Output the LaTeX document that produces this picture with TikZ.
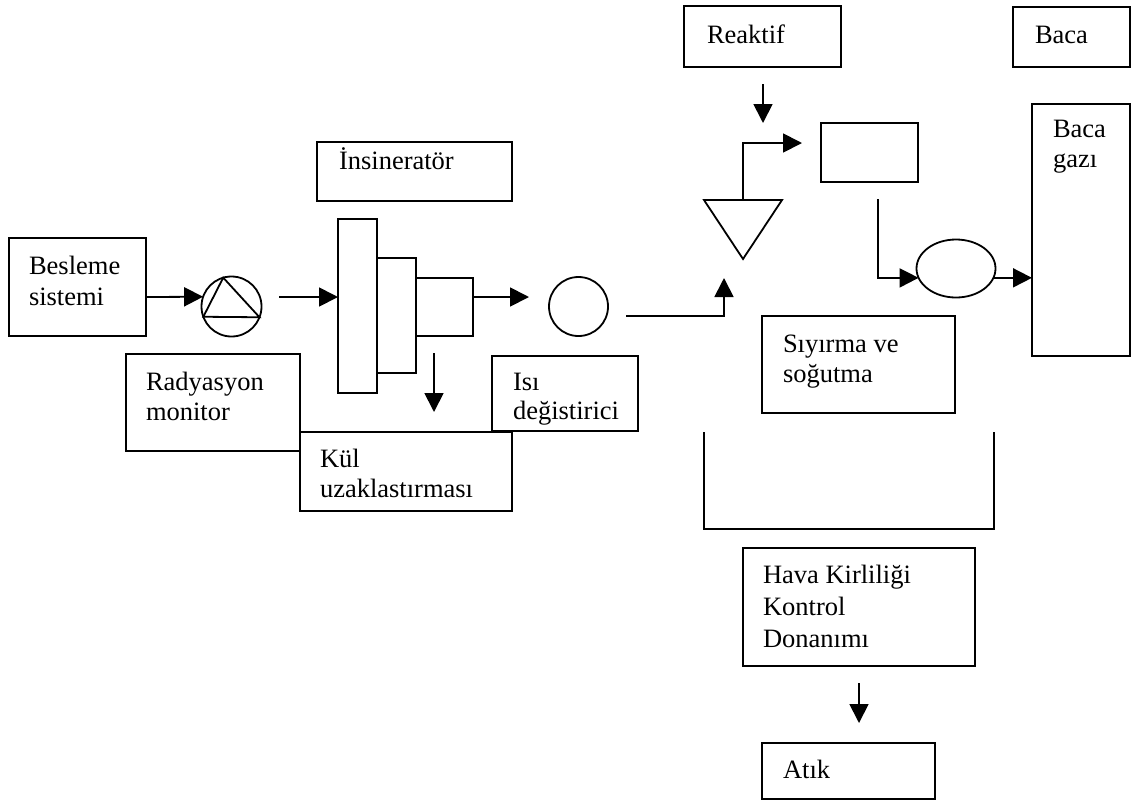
\documentclass[tikz,border=0pt]{standalone}
\usepackage{fontspec}
\setmainfont{Liberation Serif}
\usetikzlibrary{arrows.meta,shapes.geometric}
\begin{document}
\begin{tikzpicture}[x=1pt,y=-1pt,
  every node/.style={outer sep=0pt, inner sep=0pt},
  box/.style={draw, line width=1.8pt, rectangle},
  rnd/.style={draw, line width=1.8pt, circle},
  txt/.style={anchor=base west, font=\fontsize{26.5}{31}\selectfont},
  arr/.style={line width=1.8pt, -{Triangle[length=19pt,width=19pt]}},
  ln/.style={line width=1.8pt, line join=miter}]
\useasboundingbox (0,0) rectangle (1135,804);

% ---------- boxes ----------
\node[box, minimum width=137pt, minimum height=98pt]  (besleme)  at (77.5,287) {};
\node[box, minimum width=174pt, minimum height=97pt]  (radyasyon) at (213,402.5) {};
\node[box, minimum width=195pt, minimum height=59pt]  (insbox)   at (414.5,171.5) {};
\node[box, minimum width=39pt,  minimum height=174pt] (inc1)     at (357.5,306) {};
\node[box, minimum width=39pt,  minimum height=115pt] (inc2)     at (396.5,315.5) {};
\node[box, minimum width=57pt,  minimum height=58pt]  (inc3)     at (444.5,307) {};
\node[box, minimum width=212pt, minimum height=79pt]  (kul)      at (406,471.5) {};
\node[box, minimum width=146pt, minimum height=75pt]  (isi)      at (565,393.5) {};
\node[box, minimum width=157pt, minimum height=61pt]  (reaktif)  at (762.5,36.5) {};
\node[box, minimum width=117pt, minimum height=60pt]  (baca)     at (1071.5,37) {};
\node[box, minimum width=97pt,  minimum height=59pt]  (small)    at (869.5,152.5) {};
\node[box, minimum width=98pt,  minimum height=252pt] (bacagazi) at (1081,230) {};
\node[box, minimum width=193pt, minimum height=97pt]  (siyirma)  at (858.5,364.5) {};
\node[box, minimum width=232pt, minimum height=118pt] (hava)     at (859,607) {};
\node[box, minimum width=173pt, minimum height=56pt]  (atik)     at (848.5,771) {};

% ---------- round shapes ----------
\node[rnd, minimum size=60pt] (pump) at (231.5,306.5) {};
\node[rnd, minimum size=59pt] (hx)   at (578.5,306.5) {};
\node[draw, line width=1.8pt, ellipse, minimum width=79pt, minimum height=58pt] (ell) at (956,268.5) {};

% pump triangle
\draw[ln] (pump.106.6) -- (pump.200.2) -- (pump.339.8) -- cycle;

% inverted triangle (mixer)
\coordinate (triTL) at (704,200);
\coordinate (triTR) at (782,200);
\coordinate (triB)  at (743,259);
\coordinate (triTop) at (743,200);
\draw[ln] (triTL) -- (triTR) -- (triB) -- cycle;

% open bracket (tank)
\coordinate (brTL) at (704,432);
\coordinate (brBL) at (704,529);
\coordinate (brBR) at (994,529);
\coordinate (brTR) at (994,432);
\draw[ln] (brTL) -- (brBL) -- (brBR) -- (brTR);

% ---------- free connector ends ----------
\coordinate (a2s) at (279,297);
\coordinate (a3e) at (529,297);
\coordinate (a4s) at (434,353);
\coordinate (a4e) at (434,412);
\coordinate (a5s) at (626,316);
\coordinate (a5c) at (724,316);
\coordinate (a5e) at (724,278);
\coordinate (a6c) at (743,143);
\coordinate (a6e) at (802,143);
\coordinate (a7s) at (763,84);
\coordinate (a7e) at (763,123);
\coordinate (a8s) at (878,199);
\coordinate (a8c) at (878,278);
\coordinate (a10s) at (859,683);
\coordinate (a10e) at (859,723);

% ---------- connectors ----------
\draw[arr] (besleme.east |- 0,297) -- (pump.161.6);
\draw[arr] (a2s) -- (a2s -| inc1.west);
\draw[arr] (inc3.east |- 0,297) -- (a3e);
\draw[arr] (a4s) -- (a4e);
\draw[arr] (a5s) -- (a5c) -- (a5e);
\draw[arr] (triTop) -- (a6c) -- (a6e);
\draw[arr] (a7s) -- (a7e);
\draw[arr] (a8s) -- (a8c) -- (ell.194.3);
\draw[arr] (ell.-14.3) -- (ell.-14.3 -| bacagazi.west);
\draw[arr] (a10s) -- (a10e);

% ---------- texts ----------
\node[txt] (t-bes1) at (29,274) {Besleme};
\node[txt] (t-bes2) at (29,305) {sistemi};
\node[txt] (t-rad1) at (146,390) {Radyasyon};
\node[txt] (t-rad2) at (146,420) {monitor};
\node[txt] (t-ins)  at (339,169) {İnsineratör};
\node[txt] (t-kul1) at (320,467) {Kül};
\node[txt] (t-kul2) at (320,497) {uzaklastırması};
\node[txt] (t-isi1) at (513,390) {Isı};
\node[txt] (t-isi2) at (513,419) {değistirici};
\node[txt] (t-rea)  at (707,43) {Reaktif};
\node[txt] (t-baca) at (1035,43) {Baca};
\node[txt] (t-bg1)  at (1053,137) {Baca};
\node[txt] (t-bg2)  at (1053,167) {gazı};
\node[txt] (t-siy1) at (783,352) {Sıyırma ve};
\node[txt] (t-siy2) at (783,382) {soğutma};
\node[txt] (t-hav1) at (763,583) {Hava Kirliliği};
\node[txt] (t-hav2) at (763,615) {Kontrol};
\node[txt] (t-hav3) at (763,647) {Donanımı};
\node[txt] (t-atik) at (783,778) {Atık};
\end{tikzpicture}
\end{document}
